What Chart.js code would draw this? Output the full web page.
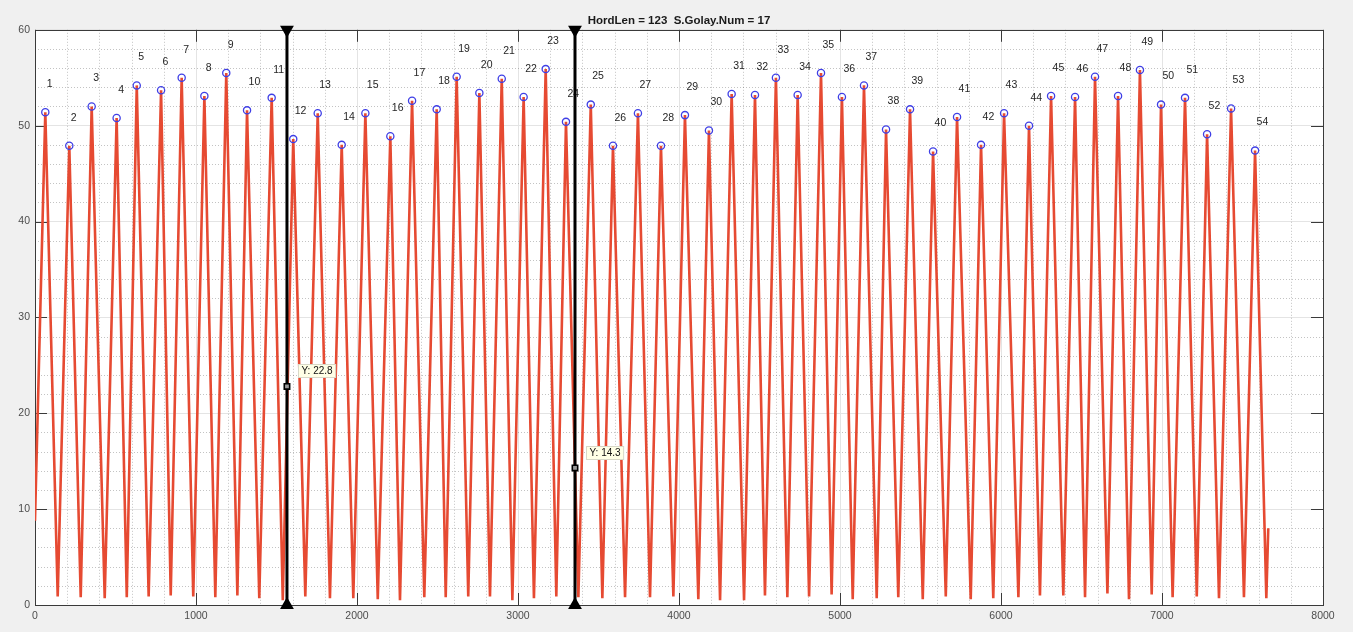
<!DOCTYPE html>
<html>
<head>
<meta charset="utf-8">
<script src="https://cdn.jsdelivr.net/npm/chart.js@4/dist/chart.umd.min.js"></script>
<style>
  html, body { margin: 0; padding: 0; background: #f0f0f0; }
  canvas { display: block; }
</style>
</head>
<body>
<canvas id="chart" width="1353" height="632"></canvas>
<script>

// ---------- data

const titleText = "HordLen = 123  S.Golay.Num = 17"

const xTicks = [0, 1000, 2000, 3000, 4000, 5000, 6000, 7000, 8000]
const yTicks = [0, 10, 20, 30, 40, 50, 60]

const peakX = [
  64, 213, 352, 507, 632, 783, 911, 1052, 1188, 1317,
  1470, 1604, 1756, 1905, 2052, 2207, 2342, 2495, 2619, 2760,
  2899, 3035, 3172, 3298, 3452, 3590, 3745, 3888, 4037, 4186,
  4327, 4472, 4602, 4737, 4882, 5012, 5149, 5286, 5435, 5578,
  5727, 5876, 6019, 6174, 6311, 6460, 6584, 6727, 6863, 6994,
  7143, 7280, 7429, 7578
]

const peakY = [
  51.4, 47.9, 52.0, 50.8, 54.2, 53.7, 55.0, 53.1, 55.5, 51.6,
  52.9, 48.6, 51.3, 48.0, 51.3, 48.9, 52.6, 51.7, 55.1, 53.4,
  54.9, 53.0, 55.9, 50.4, 52.2, 47.9, 51.3, 47.9, 51.1, 49.5,
  53.3, 53.2, 55.0, 53.2, 55.5, 53.0, 54.2, 49.6, 51.7, 47.3,
  50.9, 48.0, 51.3, 50.0, 53.1, 53.0, 55.1, 53.1, 55.8, 52.2,
  52.9, 49.1, 51.8, 47.4
]

const troughX = [
  141, 284, 433, 570, 706, 843, 983, 1120, 1257, 1393,
  1539, 1679, 1832, 1977, 2129, 2267, 2418, 2551, 2691, 2826,
  2965, 3099, 3238, 3375, 3524, 3665, 3820, 3965, 4120, 4255,
  4404, 4534, 4673, 4808, 4948, 5079, 5228, 5362, 5514, 5657,
  5812, 5952, 6108, 6242, 6387, 6522, 6661, 6795, 6936, 7066,
  7216, 7354, 7509, 7648
]

const troughY = [
  0.9, 0.8, 0.7, 0.8, 0.9, 1.0, 0.9, 0.8, 1.0, 0.7,
  0.5, 0.9, 0.7, 0.7, 0.6, 0.5, 0.8, 0.8, 0.9, 0.9,
  0.5, 0.7, 0.9, 0.8, 0.7, 0.8, 0.8, 0.9, 0.6, 0.5,
  0.5, 1.0, 0.8, 0.9, 1.1, 0.6, 0.7, 0.8, 0.6, 0.9,
  0.6, 0.7, 0.8, 1.0, 1.0, 0.8, 1.2, 0.6, 1.1, 0.8,
  0.9, 0.7, 0.8, 0.7
]

const startX = 0
const startY = 8.8
const endX = 7660
const endY = 8.0

const cursorX = [1565, 3354]
const cursorY = [22.8, 14.3]


// ---------- build the series

const signal = [{ x: startX, y: startY }]
for (let i = 0; i < peakX.length; i++) {
  signal.push({ x: peakX[i], y: peakY[i] })
  signal.push({ x: troughX[i], y: troughY[i] })
}
signal.push({ x: endX, y: endY })

const peaks = peakX.map((x, i) => ({ x: x, y: peakY[i] }))

const yMin = yTicks[0]
const yMax = yTicks[yTicks.length - 1]

const cursorSets = cursorX.map(cx => ({
  type: "line",
  data: [{ x: cx, y: yMin }, { x: cx, y: yMax }],
  borderColor: "#000",
  borderWidth: 3,
  pointStyle: "triangle",
  pointRadius: 5,
  pointRotation: ctx => ctx.dataIndex === 1 ? 180 : 0,
  pointBackgroundColor: "#000",
  pointBorderColor: "#000",
  clip: false,
  order: 2
}))


// ---------- plugins

const FONT = "'Liberation Sans', Arial, Helvetica, sans-serif"

const plotFrame = {
  id: "plotFrame",
  beforeDraw(chart) {
    const { ctx, chartArea: a } = chart
    ctx.save()
    ctx.fillStyle = "#ffffff"
    ctx.fillRect(a.left, a.top, a.right - a.left, a.bottom - a.top)
    ctx.restore()
  },
  beforeDatasetsDraw(chart) {
    const { ctx, chartArea: a, scales } = chart
    const xs = scales.x
    const ys = scales.y
    ctx.save()

    // minor dotted grid
    ctx.strokeStyle = "rgba(38,38,38,0.28)"
    ctx.lineWidth = 1
    ctx.setLineDash([1, 2])
    for (let v = 200; v < 8000; v += 200) {
      if (v % 1000 === 0) continue
      const px = Math.round(xs.getPixelForValue(v)) + 0.5
      ctx.beginPath()
      ctx.moveTo(px, a.top)
      ctx.lineTo(px, a.bottom)
      ctx.stroke()
    }
    for (let v = 2; v < 60; v += 2) {
      if (v % 10 === 0) continue
      const py = Math.round(ys.getPixelForValue(v)) + 0.5
      ctx.beginPath()
      ctx.moveTo(a.left, py)
      ctx.lineTo(a.right, py)
      ctx.stroke()
    }
    ctx.setLineDash([])

    // box and inward ticks
    ctx.strokeStyle = "#3a3a3a"
    ctx.lineWidth = 1
    ctx.strokeRect(Math.round(a.left) + 0.5, Math.round(a.top) + 0.5,
      Math.round(a.right - a.left), Math.round(a.bottom - a.top))

    const tl = 12
    ctx.beginPath()
    xTicks.forEach(v => {
      const px = Math.round(xs.getPixelForValue(v)) + 0.5
      ctx.moveTo(px, a.bottom); ctx.lineTo(px, a.bottom - tl)
      ctx.moveTo(px, a.top); ctx.lineTo(px, a.top + tl)
    })
    yTicks.forEach(v => {
      const py = Math.round(ys.getPixelForValue(v)) + 0.5
      ctx.moveTo(a.left, py); ctx.lineTo(a.left + tl, py)
      ctx.moveTo(a.right, py); ctx.lineTo(a.right - tl, py)
    })
    ctx.stroke()
    ctx.restore()
  },
  afterDatasetDraw(chart, args) {
    // peak numbers, under the cursor lines
    if (args.index !== 1) return
    const { ctx, scales } = chart
    ctx.save()
    ctx.font = "10.5px " + FONT
    ctx.fillStyle = "#262626"
    ctx.textAlign = "left"
    ctx.textBaseline = "middle"
    peaks.forEach((p, i) => {
      const px = scales.x.getPixelForValue(p.x)
      const py = scales.y.getPixelForValue(p.y)
      ctx.fillText(String(i + 1), px + 1.5, py - 28)
    })
    ctx.restore()
  },
  afterDatasetsDraw(chart) {
    // data tips next to the cursors
    const { ctx, scales } = chart
    ctx.save()
    ctx.font = "10px " + FONT
    cursorX.forEach((cx, i) => {
      const px = scales.x.getPixelForValue(cx)
      const py = scales.y.getPixelForValue(cursorY[i])
      const text = "Y: " + cursorY[i].toFixed(1)
      const w = ctx.measureText(text).width + 6
      const bx = Math.round(px + 11) + 0.5
      const by = Math.round(py - 22) + 0.5
      ctx.fillStyle = "#ffffe6"
      ctx.fillRect(bx, by, w, 13)
      ctx.strokeStyle = "#d8d8c8"
      ctx.lineWidth = 1
      ctx.strokeRect(bx, by, w, 13)
      ctx.fillStyle = "#111"
      ctx.textAlign = "left"
      ctx.textBaseline = "middle"
      ctx.fillText(text, bx + 3, by + 7)
    })
    ctx.restore()
  }
}


// ---------- chart

new Chart(document.getElementById("chart"), {
  type: "line",
  data: {
    datasets: [
      {
        data: signal,
        borderColor: "#e64a32",
        borderWidth: 2.6,
        pointRadius: 0,
        tension: 0,
        order: 4
      },
      {
        data: peaks,
        showLine: false,
        pointStyle: "circle",
        pointRadius: 3.6,
        pointBorderWidth: 1.3,
        pointBorderColor: "#3f3fe6",
        pointBackgroundColor: "rgba(0,0,0,0)",
        order: 3
      },
      ...cursorSets,
      {
        data: cursorX.map((x, i) => ({ x: x, y: cursorY[i] })),
        showLine: false,
        pointStyle: "rect",
        pointRadius: 3.8,
        pointBorderWidth: 1.6,
        pointBorderColor: "#000",
        pointBackgroundColor: "#9a9a9a",
        order: 1
      }
    ]
  },
  options: {
    responsive: false,
    animation: false,
    events: [],
    layout: { padding: { left: 0, right: 30, top: 0, bottom: 0 } },
    plugins: {
      legend: { display: false },
      tooltip: { enabled: false },
      title: {
        display: true,
        text: titleText,
        fullSize: false,
        color: "#1a1a1a",
        font: { family: FONT, size: 11.5, weight: "bold" },
        padding: { top: 14, bottom: 2 }
      }
    },
    scales: {
      x: {
        type: "linear",
        min: xTicks[0],
        max: xTicks[xTicks.length - 1],
        afterBuildTicks: s => { s.ticks = xTicks.map(v => ({ value: v })) },
        afterFit: s => { s.height = 27 },
        grid: { color: "#e4e4e4", drawTicks: false },
        border: { display: false },
        ticks: {
          color: "#4d4d4d",
          padding: 5,
          maxRotation: 0,
          font: { family: FONT, size: 10.5 },
          callback: v => String(v)
        }
      },
      y: {
        min: yMin,
        max: yMax,
        afterBuildTicks: s => { s.ticks = yTicks.map(v => ({ value: v })) },
        afterFit: s => { s.width = 35 },
        grid: { color: "#e4e4e4", drawTicks: false },
        border: { display: false },
        ticks: {
          color: "#4d4d4d",
          padding: 5,
          font: { family: FONT, size: 10.5 },
          callback: v => String(v)
        }
      }
    }
  },
  plugins: [plotFrame]
})
</script>
</body>
</html>
